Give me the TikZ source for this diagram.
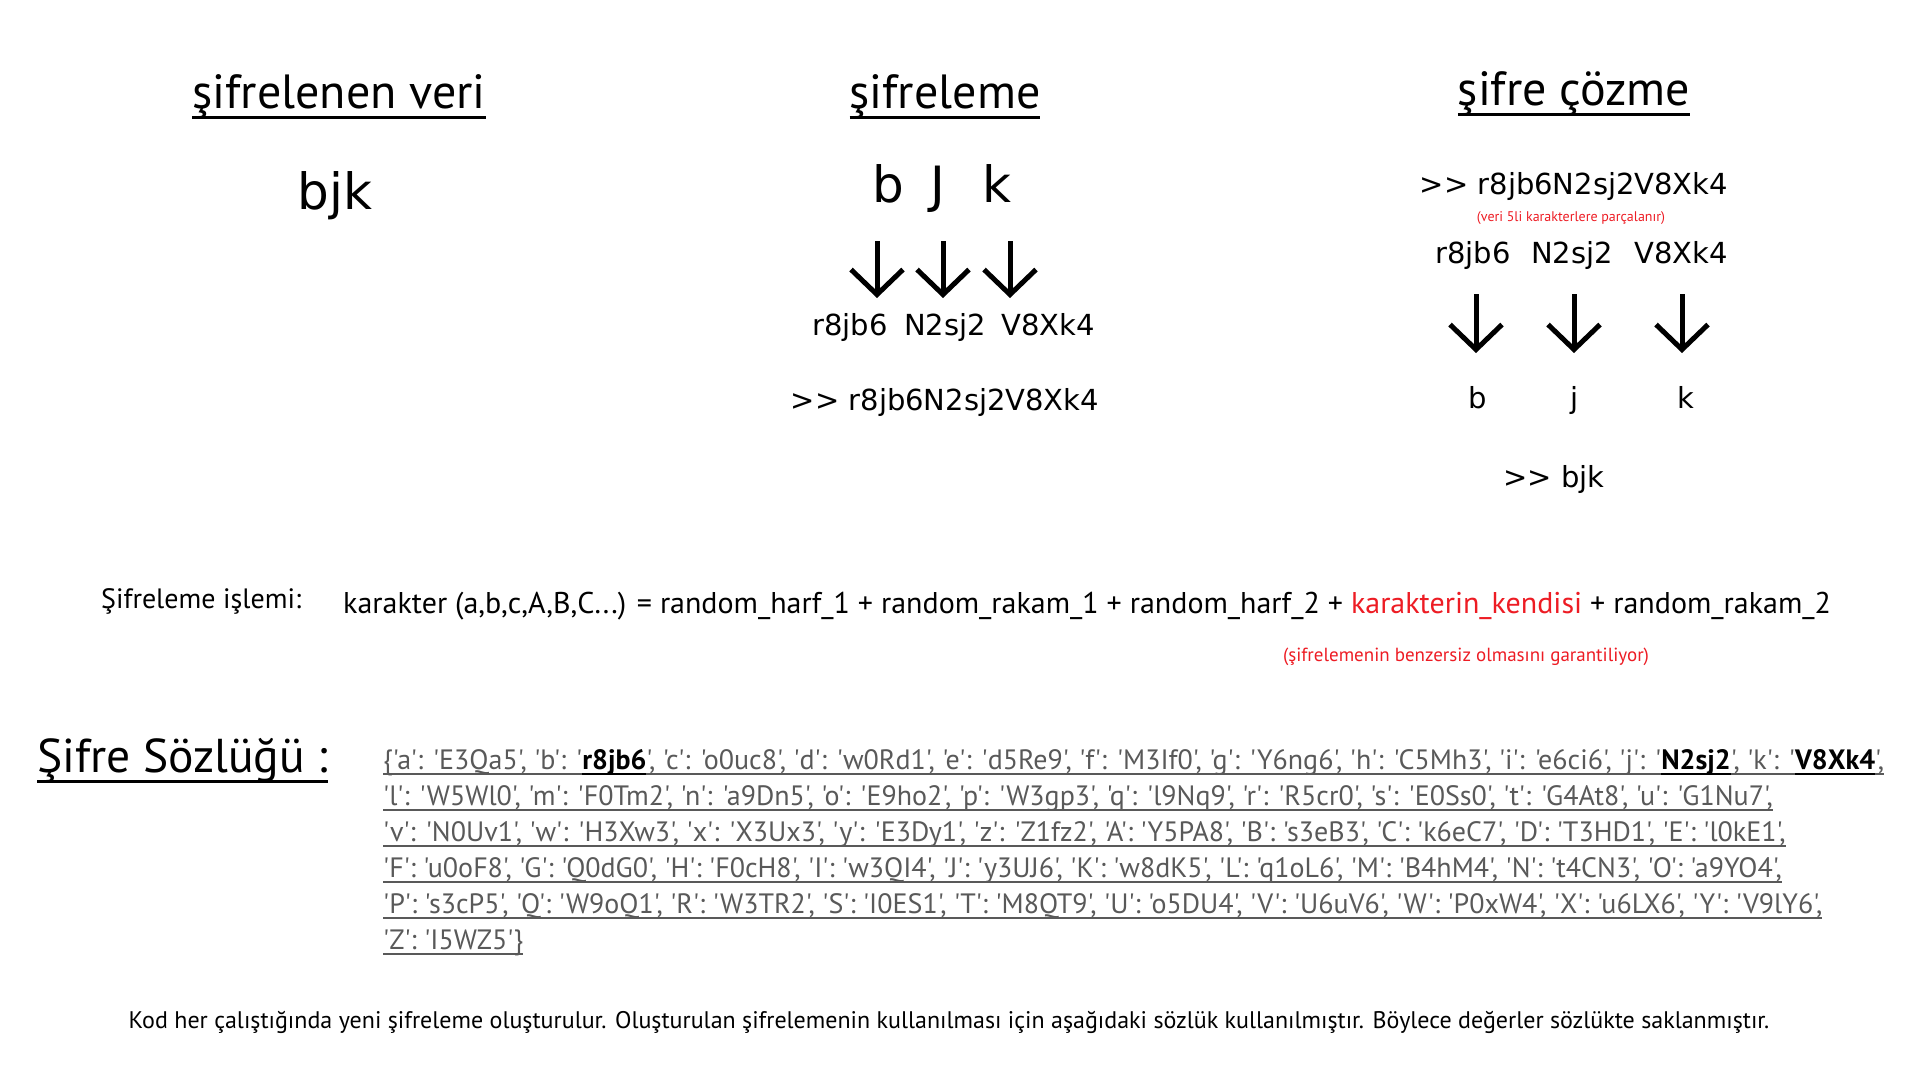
\documentclass[tikz,border=0pt]{standalone}
\usepackage{fontspec}
\setmainfont{PT Sans}
\newfontfamily\kod[Ligatures=TeXOff]{DejaVu Sans}
\newfontfamily\dictfont[Ligatures=TeXOff]{PT Sans}
\usepackage{xcolor}
\usetikzlibrary{positioning,arrows.meta}
\definecolor{dictgray}{RGB}{89,89,89}
\definecolor{notered}{RGB}{237,28,36}
\newcommand{\cizgi}[3]{\setbox0\hbox{#3}\rlap{\vrule height -#1 depth #2 width \wd0}\box0}
\newcommand{\baslik}[1]{\cizgi{7.5pt}{10.5pt}{#1}}
\newcommand{\dul}[1]{\cizgi{4.2pt}{5.8pt}{#1}}
\newcommand{\kalin}[1]{\textcolor{black}{\dul{\textbf{#1}}}}

\begin{document}
\begin{tikzpicture}[x=1pt, y=-1pt, every node/.style={inner sep=0pt}]
  \tikzstyle{hdr}=[anchor=base, font=\fontsize{48}{52}\selectfont]
  \tikzstyle{bigtxt}=[anchor=base, font=\kod\fontsize{50}{54}\selectfont]
  \tikzstyle{kodtxt}=[anchor=base, font=\kod\fontsize{29}{32}\selectfont]
  \tikzstyle{redtxt}=[anchor=base, text=notered]
  \tikzstyle{dict}=[anchor=base west, text=dictgray, font=\dictfont\fontsize{28}{31}\selectfont]
  \tikzstyle{darrow}=[line width=5pt, -{Straight Barb[length=25pt,width=52pt]}]
  \useasboundingbox (0,0) rectangle (1920,1080);

  \node[hdr] (h1) at (339,108) {\baslik{şifrelenen veri}};
  \node[hdr] (h2) at (945,108) {\baslik{şifreleme}};
  \node[hdr] (h3) at (1574,105) {\baslik{şifre çözme}};

  \node[bigtxt] (v) at (335,209) {bjk};

  \node[bigtxt] (b1) at (888,202) {b};
  \node[bigtxt] (b2) at (938,202) {J};
  \node[bigtxt] (b3) at (997,202) {k};
  \coordinate (e1) at (877,241);
  \coordinate (e2) at (943,241);
  \coordinate (e3) at (1010,241);
  \coordinate (e1t) at (877,298);
  \coordinate (e2t) at (943,298);
  \coordinate (e3t) at (1010,298);
  \draw[darrow] (e1) -- (e1t);
  \draw[darrow] (e2) -- (e2t);
  \draw[darrow] (e3) -- (e3t);
  \node[kodtxt] (c1) at (850,335) {r8jb6};
  \node[kodtxt] (c2) at (945,335) {N2sj2};
  \node[kodtxt] (c3) at (1048,335) {V8Xk4};
  \node[kodtxt] (s) at (945,410) {>> r8jb6N2sj2V8Xk4};

  \node[kodtxt] (t) at (1574,194) {>> r8jb6N2sj2V8Xk4};
  \node[redtxt, font=\fontsize{14}{16}\selectfont] (n1) at (1571,221) {(veri 5li karakterlere parçalanır)};
  \node[kodtxt] (p1) at (1473,263) {r8jb6};
  \node[kodtxt] (p2) at (1572,263) {N2sj2};
  \node[kodtxt] (p3) at (1681,263) {V8Xk4};
  \coordinate (g1) at (1476,294);
  \coordinate (g2) at (1574,294);
  \coordinate (g3) at (1682,294);
  \coordinate (g1t) at (1476,353);
  \coordinate (g2t) at (1574,353);
  \coordinate (g3t) at (1682,353);
  \draw[darrow] (g1) -- (g1t);
  \draw[darrow] (g2) -- (g2t);
  \draw[darrow] (g3) -- (g3t);
  \node[kodtxt] (d1) at (1478,408) {b};
  \node[kodtxt] (d2) at (1575,408) {j};
  \node[kodtxt] (d3) at (1686,408) {k};
  \node[kodtxt] (o) at (1554,487) {>> bjk};

  \node[anchor=base west, font=\fontsize{28}{32}\selectfont] (lbl) at (101,608) {Şifreleme işlemi:};
  \node[anchor=base west, font=\fontsize{30}{34}\selectfont] (f) at (343,613) {karakter (a,b,c,A,B,C...) = random\_harf\_1 + random\_rakam\_1 + random\_harf\_2 + \textcolor{notered}{karakterin\_kendisi} + random\_rakam\_2};
  \node[redtxt, font=\fontsize{19}{22}\selectfont] (n2) at (1466,661) {(şifrelemenin benzersiz olmasını garantiliyor)};

  \node[anchor=base west, font=\fontsize{47.5}{52}\selectfont] (sz) at (37,772) {\cizgi{8pt}{10.5pt}{Şifre Sözlüğü :}};
  \node[dict] (l1) at (383,769) {\dul{\{'a': 'E3Qa5', 'b': '\kalin{r8jb6}', 'c': 'o0uc8', 'd': 'w0Rd1', 'e': 'd5Re9', 'f': 'M3If0', 'g': 'Y6ng6', 'h': 'C5Mh3', 'i': 'e6ci6', 'j': '\kalin{N2sj2}', 'k': '\kalin{V8Xk4}',}};
  \node[dict] (l2) at (383,805) {\dul{'l': 'W5Wl0', 'm': 'F0Tm2', 'n': 'a9Dn5', 'o': 'E9ho2', 'p': 'W3gp3', 'q': 'l9Nq9', 'r': 'R5cr0', 's': 'E0Ss0', 't': 'G4At8', 'u': 'G1Nu7',}};
  \node[dict] (l3) at (383,841) {\dul{'v': 'N0Uv1', 'w': 'H3Xw3', 'x': 'X3Ux3', 'y': 'E3Dy1', 'z': 'Z1fz2', 'A': 'Y5PA8', 'B': 's3eB3', 'C': 'k6eC7', 'D': 'T3HD1', 'E': 'l0kE1',}};
  \node[dict] (l4) at (383,877) {\dul{'F': 'u0oF8', 'G': 'Q0dG0', 'H': 'F0cH8', 'I': 'w3QI4', 'J': 'y3UJ6', 'K': 'w8dK5', 'L': 'q1oL6', 'M': 'B4hM4', 'N': 't4CN3', 'O': 'a9YO4',}};
  \node[dict] (l5) at (383,913) {\dul{'P': 's3cP5', 'Q': 'W9oQ1', 'R': 'W3TR2', 'S': 'I0ES1', 'T': 'M8QT9', 'U': 'o5DU4', 'V': 'U6uV6', 'W': 'P0xW4', 'X': 'u6LX6', 'Y': 'V9lY6',}};
  \node[dict] (l6) at (383,949) {\dul{'Z': 'I5WZ5'\}}};

  \node[anchor=base, font=\fontsize{24}{28}\selectfont] (bn) at (949,1028) {Kod her çalıştığında yeni şifreleme oluşturulur. Oluşturulan şifrelemenin kullanılması için aşağıdaki sözlük kullanılmıştır. Böylece değerler sözlükte saklanmıştır.};
\end{tikzpicture}
\end{document}
